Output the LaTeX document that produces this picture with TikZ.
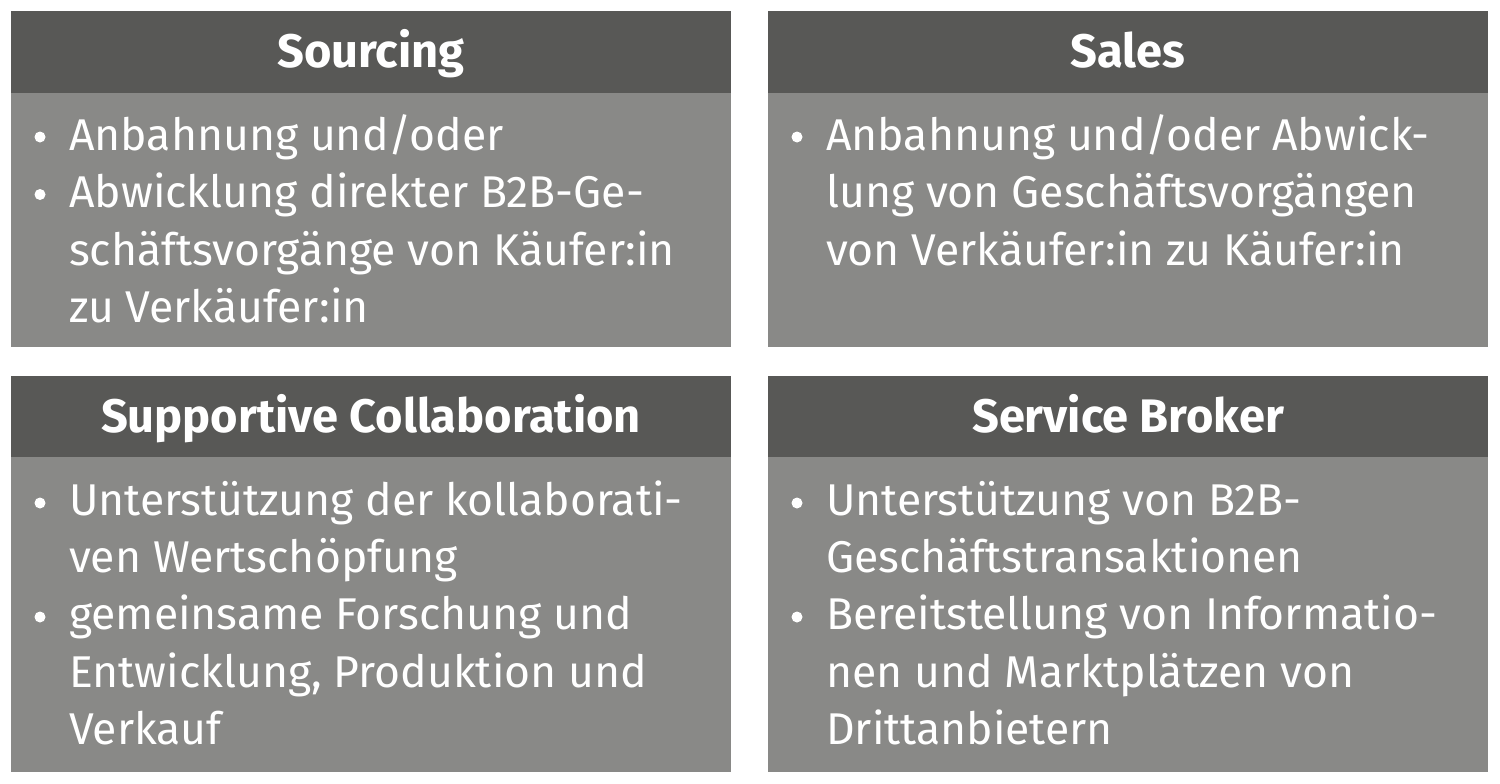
\documentclass[tikz,border=0pt]{standalone}
\usepackage{fontspec}
\setmainfont{Fira Sans}
\definecolor{headgray}{RGB}{88,88,86}
\definecolor{bodygray}{RGB}{137,137,135}
\begin{document}
\begin{tikzpicture}[x=1pt,y=-1pt,
  head/.style={fill=headgray,draw=none},
  bodybox/.style={fill=bodygray,draw=none},
  title/.style={text=white,font=\fontsize{47}{52}\selectfont\bfseries,inner sep=0pt,anchor=base},
  line/.style={text=white,font=\fontsize{44.5}{50}\selectfont,anchor=base west,inner sep=0pt},
  dot/.style={fill=white}]
\useasboundingbox (0,0) rectangle (1500,784);
% box 1
\fill[head] (11,11) rectangle (731,93);
\fill[bodybox] (11,93) rectangle (731,347);
\node[title] (t1) at (371,68) {Sourcing};
\fill[dot] (40,137) circle (5.5);
\fill[dot] (40,194.5) circle (5.5);
\node[line] (a1) at (69,150) {Anbahnung und/oder};
\node[line] (a2) at (69,207.5) {Abwicklung direkter B2B-Ge-};
\node[line] (a3) at (69,265) {schäftsvorgänge von Käufer:in};
\node[line] (a4) at (69,322.5) {zu Verkäufer:in};
% box 2
\fill[head] (768,11) rectangle (1488,93);
\fill[bodybox] (768,93) rectangle (1488,347);
\node[title] (t2) at (1128,68) {Sales};
\fill[dot] (797,137) circle (5.5);
\node[line] (b1) at (826,150) {Anbahnung und/oder Abwick-};
\node[line] (b2) at (826,207.5) {lung von Geschäftsvorgängen};
\node[line] (b3) at (826,265) {von Verkäufer:in zu Käufer:in};
% box 3
\fill[head] (11,376) rectangle (731,457);
\fill[bodybox] (11,457) rectangle (731,772);
\node[title] (t3) at (371,432.5) {Supportive Collaboration};
\fill[dot] (40,503) circle (5.5);
\fill[dot] (40,617) circle (5.5);
\node[line] (c1) at (69,515) {Unterstützung der kollaborati-};
\node[line] (c2) at (69,572) {ven Wertschöpfung};
\node[line] (c3) at (69,629) {gemeinsame Forschung und};
\node[line] (c4) at (69,687) {Entwicklung, Produktion und};
\node[line] (c5) at (69,744) {Verkauf};
% box 4
\fill[head] (768,376) rectangle (1488,457);
\fill[bodybox] (768,457) rectangle (1488,772);
\node[title] (t4) at (1128,432.5) {Service Broker};
\fill[dot] (797,503) circle (5.5);
\fill[dot] (797,617) circle (5.5);
\node[line] (d1) at (826,515) {Unterstützung von B2B-};
\node[line] (d2) at (826,572) {Geschäftstransaktionen};
\node[line] (d3) at (826,629) {Bereitstellung von Informatio-};
\node[line] (d4) at (826,687) {nen und Marktplätzen von};
\node[line] (d5) at (826,744) {Drittanbietern};
\end{tikzpicture}
\end{document}
